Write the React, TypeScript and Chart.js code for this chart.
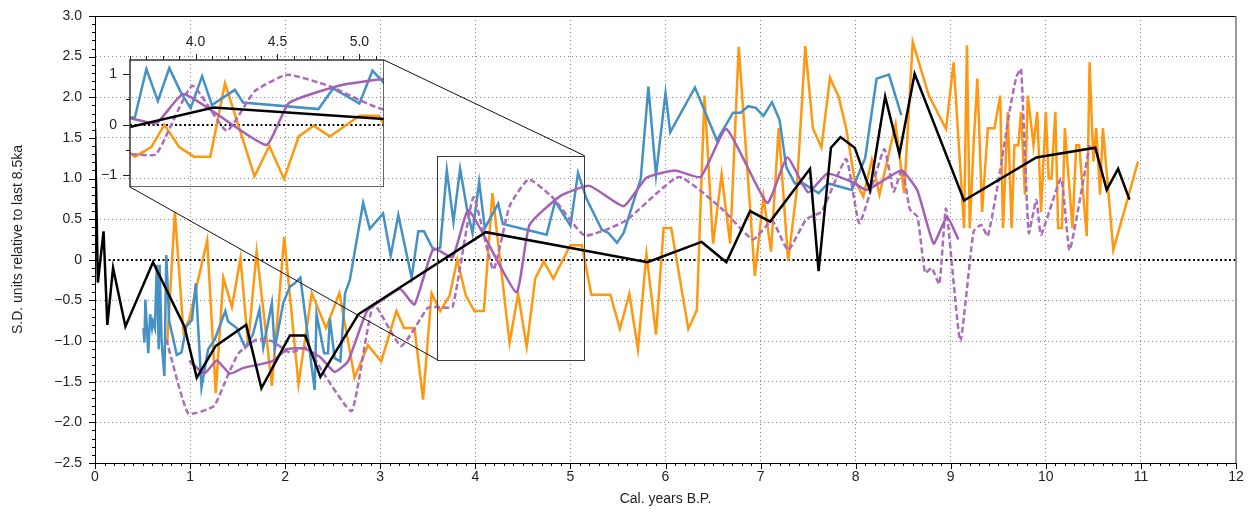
import React, { useEffect, useRef } from "react";
import { Chart, registerables } from "chart.js";
Chart.register(...registerables);

const W = 1253;
const H = 514;
const FONT = '"Liberation Sans", Arial, Helvetica, sans-serif';
const TEXT = "#1f1f1f";

const BLUE = "#4590c4";
const ORANGE = "#ff9810";
const PURPLE = "#a460b6";
const PURPLE_DASH = "#ab6cbb";

// ---- data: [cal. ka BP, S.D. units] ----
const blackSeries: number[][] = [
  [0, 1.62], [0.03, -0.28], [0.09, 0.35], [0.13, -0.8], [0.19, -0.1], [0.32, -0.82], [0.61, -0.03],
  [0.94, -0.82], [1.07, -1.45], [1.27, -1.06], [1.59, -0.8], [1.75, -1.58], [2.05, -0.93], [2.21, -0.93],
  [2.37, -1.44], [2.77, -0.67], [4.11, 0.34], [5.81, -0.03], [6.38, 0.22], [6.64, -0.03], [6.89, 0.6],
  [7.1, 0.47], [7.52, 1.12], [7.61, -0.14], [7.74, 1.38], [7.84, 1.51], [7.99, 1.38], [8.15, 0.86],
  [8.31, 2.01], [8.46, 1.3], [8.62, 2.29], [9.14, 0.73], [9.9, 1.26], [10.52, 1.38], [10.64, 0.86],
  [10.76, 1.12], [10.88, 0.74],
];

const blueSeries: number[][] = [
  [0.51, -0.84], [0.52, -1.02], [0.53, -0.49], [0.56, -1.15], [0.58, -0.67], [0.6, -0.84], [0.61, -0.76],
  [0.63, -0.84], [0.65, -0.06], [0.67, -1.1], [0.68, -0.06], [0.7, -1.0], [0.73, -1.43], [0.75, 0.06],
  [0.78, -0.75], [0.86, -1.17], [0.91, -1.14], [0.96, -0.82], [1.02, -0.74], [1.06, -0.29], [1.12, -1.57],
  [1.19, -1.1], [1.26, -0.98], [1.37, -0.63], [1.4, -0.76], [1.49, -0.84], [1.58, -1.08], [1.66, -0.92],
  [1.73, -0.61], [1.77, -1.08], [1.86, -0.53], [1.89, -1.1], [1.98, -0.53], [2.05, -0.33], [2.1, -0.29],
  [2.16, -0.22], [2.31, -1.6], [2.33, -0.67], [2.41, -1.15], [2.45, -1.15], [2.47, -0.72], [2.52, -1.21],
  [2.58, -1.25], [2.63, -0.41], [2.68, -0.25], [2.82, 0.7], [2.89, 0.38], [3.03, 0.57], [3.11, 0.05],
  [3.19, 0.55], [3.33, -0.22], [3.4, 0.35], [3.46, 0.35], [3.56, 0.12], [3.63, 0.15], [3.7, 1.1],
  [3.77, 0.47], [3.84, 1.12], [3.91, 0.64], [3.97, 0.33], [4.04, 0.96], [4.1, 0.39], [4.24, 0.69],
  [4.29, 0.44], [4.75, 0.31], [4.84, 0.72], [5.0, 0.42], [5.08, 1.07], [5.17, 0.75], [5.33, 0.37],
  [5.4, 0.33], [5.49, 0.21], [5.56, 0.33], [5.74, 1.0], [5.82, 2.13], [5.9, 1.04], [6.0, 2.05],
  [6.05, 1.57], [6.31, 2.12], [6.54, 1.47], [6.71, 1.81], [6.79, 1.81], [6.87, 1.89], [6.95, 1.87],
  [7.03, 1.77], [7.12, 1.94], [7.2, 1.72], [7.27, 1.14], [7.36, 0.94], [7.45, 0.94], [7.61, 0.82],
  [7.71, 0.94], [7.96, 0.86], [8.1, 1.25], [8.22, 2.23], [8.35, 2.28], [8.48, 1.78],
];

const orangeSeries: number[][] = [
  [0.76, -1.02], [0.84, 0.59], [0.93, -0.88], [0.99, -0.74], [1.08, -0.27], [1.18, 0.24], [1.27, -1.64],
  [1.35, -0.22], [1.44, -0.58], [1.53, 0.02], [1.61, -1.04], [1.7, 0.1], [1.79, -0.82], [1.86, -1.55],
  [1.99, 0.28], [2.14, -1.53], [2.28, -0.41], [2.43, -0.84], [2.57, -0.41], [2.73, -1.45], [2.87, -1.05],
  [3.01, -1.25], [3.17, -0.63], [3.25, -0.84], [3.36, -0.84], [3.45, -1.72], [3.54, -0.41], [3.63, -0.63],
  [3.73, -0.44], [3.81, 0.0], [3.9, -0.44], [3.99, -0.63], [4.09, -0.63], [4.18, 0.82], [4.36, -1.02],
  [4.45, -0.42], [4.54, -1.07], [4.63, -0.23], [4.72, -0.02], [4.82, -0.23], [5.0, 0.18], [5.12, 0.18],
  [5.22, -0.43], [5.42, -0.43], [5.52, -0.85], [5.62, -0.42], [5.71, -1.1], [5.8, 0.07], [5.9, -0.92],
  [5.98, 0.39], [6.06, 0.39], [6.24, -0.85], [6.33, -0.62], [6.41, 2.02], [6.5, 0.2], [6.59, 1.05],
  [6.68, 0.2], [6.77, 2.62], [6.94, -0.2], [7.03, 0.78], [7.11, 0.1], [7.19, 1.62], [7.29, -0.01],
  [7.38, 0.85], [7.47, 2.63], [7.55, 1.62], [7.64, 1.38], [7.73, 2.24], [7.82, 2.01], [7.9, 1.62],
  [7.99, 0.98], [8.08, 0.78], [8.17, 1.23], [8.25, 0.8], [8.42, 1.67], [8.51, 0.82], [8.6, 2.68],
  [8.77, 2.02], [8.95, 1.61], [9.03, 2.43], [9.14, 0.39], [9.17, 2.64], [9.2, 0.39], [9.24, 1.41],
  [9.28, 2.23], [9.33, 0.59], [9.39, 1.62], [9.46, 1.62], [9.52, 2.02], [9.55, 0.39], [9.6, 1.82],
  [9.64, 0.39], [9.67, 1.41], [9.71, 1.41], [9.74, 1.82], [9.78, 0.8], [9.81, 2.02], [9.87, 1.41],
  [9.91, 1.82], [9.95, 0.59], [10.0, 1.82], [10.03, 1.0], [10.06, 1.0], [10.1, 1.82], [10.13, 0.39],
  [10.17, 0.39], [10.2, 1.62], [10.24, 1.0], [10.28, 0.39], [10.32, 1.41], [10.35, 1.41], [10.43, 0.29],
  [10.46, 2.43], [10.5, 1.21], [10.53, 1.62], [10.57, 0.8], [10.6, 1.62], [10.71, 0.12], [10.97, 1.21],
];

const purpleSeries: number[][] = [
  [0.99, -1.24], [1.15, -1.4], [1.28, -1.24], [1.42, -1.4], [1.56, -1.33], [1.86, -1.25], [2.02, -1.1],
  [2.2, -1.09], [2.37, -1.2], [2.52, -1.38], [2.66, -1.25], [2.86, -0.63], [3.04, -0.48], [3.21, -0.36],
  [3.36, -0.55], [3.56, 0.14], [3.76, 0.03], [3.93, 0.61], [4.43, -0.4], [4.57, 0.43], [4.9, 0.79],
  [5.2, 0.91], [5.56, 0.66], [5.8, 1.01], [6.1, 1.1], [6.37, 1.02], [6.64, 1.61], [7.07, 0.7],
  [7.28, 1.26], [7.5, 0.83], [7.7, 1.06], [7.96, 0.96], [8.12, 0.86], [8.48, 1.1], [8.65, 0.85],
  [8.82, 0.2], [8.96, 0.53], [9.08, 0.25],
];

const purpleDashedSeries: number[][] = [
  [0.75, -0.98], [0.98, -1.89], [1.25, -1.8], [1.4, -1.41], [1.51, -1.15], [1.7, -0.98], [1.86, -1.0],
  [2.05, -1.14], [2.23, -1.08], [2.4, -1.39], [2.7, -1.86], [2.93, -0.55], [3.22, -1.06], [3.5, -0.59],
  [3.6, -0.58], [3.76, -0.58], [3.98, 0.77], [4.19, -0.12], [4.36, 0.66], [4.56, 0.99], [4.82, 0.76],
  [5.15, 0.3], [5.58, 0.48], [6.14, 1.02], [6.6, 0.62], [6.92, 0.25], [7.12, 0.48], [7.29, 0.12],
  [7.48, 0.5], [7.64, 0.59], [7.9, 1.24], [8.04, 0.45], [8.3, 1.36], [8.4, 0.84], [8.49, 1.12],
  [8.57, 0.62], [8.65, 0.53], [8.73, -0.16], [8.8, -0.1], [8.88, -0.3], [8.95, 0.63], [9.1, -1.0],
  [9.24, 0.35], [9.32, 0.43], [9.39, 0.29], [9.52, 1.1], [9.62, 1.84], [9.69, 2.25], [9.74, 2.35],
  [9.82, 0.33], [9.9, 0.74], [9.95, 0.31], [10.16, 1.0], [10.25, 0.12], [10.46, 1.41],
];

// ---- axes ----
const mainXTicks = [0, 1, 2, 3, 4, 5, 6, 7, 8, 9, 10, 11, 12];
const mainYTicks = [-2.5, -2, -1.5, -1, -0.5, 0, 0.5, 1, 1.5, 2, 2.5, 3];
const insetXTicks = [4, 4.5, 5];
const insetYTicks = [-1, 0, 1];
const zoomX = [3.6, 5.15];
const zoomY = [-1.23, 1.28];

// ---- layout (px) ----
const MAIN = { left: 95, top: 16, right: 1236, bottom: 463 };
const INSET = { left: 130, top: 60, right: 384, bottom: 187 };
const INSET_YW = 40;
const INSET_XH = 30;

const fmtY = (v: number) => (v === 0 ? "0" : (v < 0 ? "\u2212" : "") + Math.abs(v).toFixed(1));
const fmtInt = (v: number) => (v < 0 ? "\u2212" : "") + Math.abs(v).toString();

const toPts = (s: number[][]) => s.map(([x, y]) => ({ x, y }));

function makeDatasets(clip?: number) {
  const base: any = { pointRadius: 0, borderWidth: 2.5, tension: 0, fill: false };
  if (clip !== undefined) base.clip = clip;
  return [
    { ...base, data: toPts(blackSeries), borderColor: "#000000" },
    { ...base, data: toPts(purpleSeries), borderColor: PURPLE, tension: 0.15 },
    { ...base, data: toPts(purpleDashedSeries), borderColor: PURPLE_DASH, borderDash: [6, 3], tension: 0.15 },
    { ...base, data: toPts(blueSeries), borderColor: BLUE },
    { ...base, data: toPts(orangeSeries), borderColor: ORANGE },
  ];
}

function line(ctx: CanvasRenderingContext2D, x1: number, y1: number, x2: number, y2: number) {
  ctx.beginPath();
  ctx.moveTo(x1, y1);
  ctx.lineTo(x2, y2);
  ctx.stroke();
}

const mainDecor = {
  id: "mainDecor",
  beforeDatasetsDraw(chart: any) {
    const { ctx, chartArea: a, scales } = chart;
    const y0 = Math.round(scales.y.getPixelForValue(0));
    ctx.save();
    ctx.strokeStyle = "#000";
    ctx.lineWidth = 2;
    ctx.setLineDash([2, 2.5]);
    line(ctx, a.left, y0, a.right, y0);
    ctx.restore();
  },
  afterDraw(chart: any) {
    const { ctx, chartArea: a, scales } = chart;
    const xs = scales.x;
    const ys = scales.y;
    ctx.save();
    ctx.strokeStyle = "#000";
    ctx.lineWidth = 1;
    for (let i = 0; i <= 120; i++) {
      const px = Math.round(xs.getPixelForValue(i / 10)) + 0.5;
      const len = i % 10 === 0 ? 6 : 3;
      line(ctx, px, a.bottom, px, a.bottom + len);
    }
    for (let i = -25; i <= 30; i++) {
      const py = Math.round(ys.getPixelForValue(i / 10)) + 0.5;
      const len = i % 5 === 0 ? 6 : 3;
      line(ctx, a.left - len, py, a.left, py);
    }
    line(ctx, a.left, a.top + 0.5, a.right, a.top + 0.5);
    ctx.strokeStyle = "#777";
    ctx.lineWidth = 1.5;
    line(ctx, a.right, a.top, a.right, a.bottom);
    const bx1 = xs.getPixelForValue(zoomX[0]);
    const bx2 = xs.getPixelForValue(zoomX[1]);
    const by1 = ys.getPixelForValue(zoomY[1]);
    const by2 = ys.getPixelForValue(zoomY[0]);
    ctx.strokeStyle = "#3a3a3a";
    ctx.lineWidth = 1;
    ctx.strokeRect(Math.round(bx1) + 0.5, Math.round(by1) + 0.5, Math.round(bx2 - bx1), Math.round(by2 - by1));
    ctx.strokeStyle = "#111";
    line(ctx, INSET.right, INSET.top, bx2, by1);
    line(ctx, INSET.left, INSET.bottom, bx1, by2);
    ctx.restore();
  },
};

const insetDecor = {
  id: "insetDecor",
  beforeDatasetsDraw(chart: any) {
    const { ctx, chartArea: a, scales } = chart;
    const y0 = Math.round(scales.y.getPixelForValue(0));
    ctx.save();
    ctx.strokeStyle = "#000";
    ctx.lineWidth = 2;
    ctx.setLineDash([2, 2.5]);
    line(ctx, a.left, y0, a.right, y0);
    ctx.restore();
  },
  afterDraw(chart: any) {
    const { ctx, chartArea: a, scales } = chart;
    const xs = scales.x;
    const ys = scales.y;
    ctx.save();
    ctx.strokeStyle = "#222";
    ctx.lineWidth = 1;
    for (let i = 36; i <= 51; i++) {
      const px = Math.round(xs.getPixelForValue(i / 10)) + 0.5;
      const len = i % 5 === 0 ? 6 : 4;
      line(ctx, px, a.top - len, px, a.top);
    }
    for (let i = -2; i <= 2; i++) {
      const py = Math.round(ys.getPixelForValue(i / 2)) + 0.5;
      const len = i % 2 === 0 ? 7 : 4;
      line(ctx, a.left - len, py, a.left, py);
    }
    ctx.strokeStyle = "#333";
    ctx.lineWidth = 1.5;
    ctx.strokeRect(a.left, a.top, a.right - a.left, a.bottom - a.top);
    ctx.restore();
  },
};

export default function App() {
  const mainRef = useRef<HTMLCanvasElement | null>(null);
  const insetRef = useRef<HTMLCanvasElement | null>(null);

  useEffect(() => {
    if (!mainRef.current || !insetRef.current) return;
    const tickFont = { family: FONT, size: 14 };

    const main = new Chart(mainRef.current, {
      type: "line",
      data: { datasets: makeDatasets() as any },
      plugins: [mainDecor],
      options: {
        animation: false,
        responsive: false,
        devicePixelRatio: 1,
        layout: { padding: { left: 0, top: MAIN.top, right: W - MAIN.right, bottom: 0 } },
        plugins: { legend: { display: false }, tooltip: { enabled: false } },
        scales: {
          x: {
            type: "linear",
            position: "bottom",
            min: 0,
            max: 12,
            afterBuildTicks: (s: any) => {
              s.ticks = mainXTicks.map((v) => ({ value: v }));
            },
            afterFit: (s: any) => {
              s.height = H - MAIN.bottom;
              s.paddingLeft = 0;
              s.paddingRight = 0;
            },
            ticks: {
              autoSkip: false,
              maxRotation: 0,
              padding: 6,
              color: TEXT,
              font: tickFont,
              callback: (v: any) => fmtInt(Number(v)),
            },
            grid: {
              drawTicks: false,
              lineWidth: 1,
              color: (c: any) => {
                const v = c.tick ? c.tick.value : null;
                return v === 0 || v === 12 ? "rgba(0,0,0,0)" : "#8a8a8a";
              },
            },
            border: { display: true, color: "#000", width: 1, dash: [1, 3] },
            title: {
              display: true,
              text: "Cal. years B.P.",
              color: TEXT,
              font: { family: FONT, size: 14 },
              padding: { top: 0, bottom: 6 },
            },
          },
          y: {
            type: "linear",
            position: "left",
            min: -2.5,
            max: 3,
            afterBuildTicks: (s: any) => {
              s.ticks = mainYTicks.map((v) => ({ value: v }));
            },
            afterFit: (s: any) => {
              s.width = MAIN.left;
              s.paddingTop = 0;
              s.paddingBottom = 0;
            },
            ticks: {
              autoSkip: false,
              padding: 13,
              color: TEXT,
              font: tickFont,
              callback: (v: any) => fmtY(Number(v)),
            },
            grid: {
              drawTicks: false,
              lineWidth: 1,
              color: (c: any) => {
                const v = c.tick ? c.tick.value : null;
                return v === 0 || v === 3 || v === -2.5 ? "rgba(0,0,0,0)" : "#8a8a8a";
              },
            },
            border: { display: true, color: "#000", width: 1, dash: [1, 3] },
            title: {
              display: true,
              text: "S.D. units relative to last 8.5ka",
              color: TEXT,
              font: { family: FONT, size: 14 },
              padding: { top: 10, bottom: 0 },
            },
          },
        },
      } as any,
    });

    const inset = new Chart(insetRef.current, {
      type: "line",
      data: { datasets: makeDatasets(0) as any },
      plugins: [insetDecor],
      options: {
        animation: false,
        responsive: false,
        devicePixelRatio: 1,
        layout: { padding: 0 },
        plugins: { legend: { display: false }, tooltip: { enabled: false } },
        scales: {
          x: {
            type: "linear",
            position: "top",
            min: zoomX[0],
            max: zoomX[1],
            afterBuildTicks: (s: any) => {
              s.ticks = insetXTicks.map((v) => ({ value: v }));
            },
            afterFit: (s: any) => {
              s.height = INSET_XH;
              s.paddingLeft = 0;
              s.paddingRight = 0;
            },
            ticks: {
              autoSkip: false,
              maxRotation: 0,
              padding: 9,
              color: TEXT,
              font: tickFont,
              callback: (v: any) => Number(v).toFixed(1),
            },
            grid: { display: false, drawTicks: false },
            border: { display: false },
          },
          y: {
            type: "linear",
            position: "left",
            min: zoomY[0],
            max: zoomY[1],
            afterBuildTicks: (s: any) => {
              s.ticks = insetYTicks.map((v) => ({ value: v }));
            },
            afterFit: (s: any) => {
              s.width = INSET_YW;
              s.paddingTop = 0;
              s.paddingBottom = 0;
            },
            ticks: {
              autoSkip: false,
              padding: 13,
              color: TEXT,
              font: tickFont,
              callback: (v: any) => fmtInt(Number(v)),
            },
            grid: { display: false, drawTicks: false },
            border: { display: false },
          },
        },
      } as any,
    });

    return () => {
      main.destroy();
      inset.destroy();
    };
  }, []);

  const insetW = INSET.right - INSET.left + INSET_YW;
  const insetH = INSET.bottom - INSET.top + INSET_XH;

  return (
    <div style={{ position: "fixed", left: 0, top: 0, width: W, height: H, background: "#fff" }}>
      <canvas
        ref={mainRef}
        width={W}
        height={H}
        style={{ position: "absolute", left: 0, top: 0, width: W, height: H }}
      />
      <canvas
        ref={insetRef}
        width={insetW}
        height={insetH}
        style={{
          position: "absolute",
          left: INSET.left - INSET_YW,
          top: INSET.top - INSET_XH,
          width: insetW,
          height: insetH,
        }}
      />
    </div>
  );
}
